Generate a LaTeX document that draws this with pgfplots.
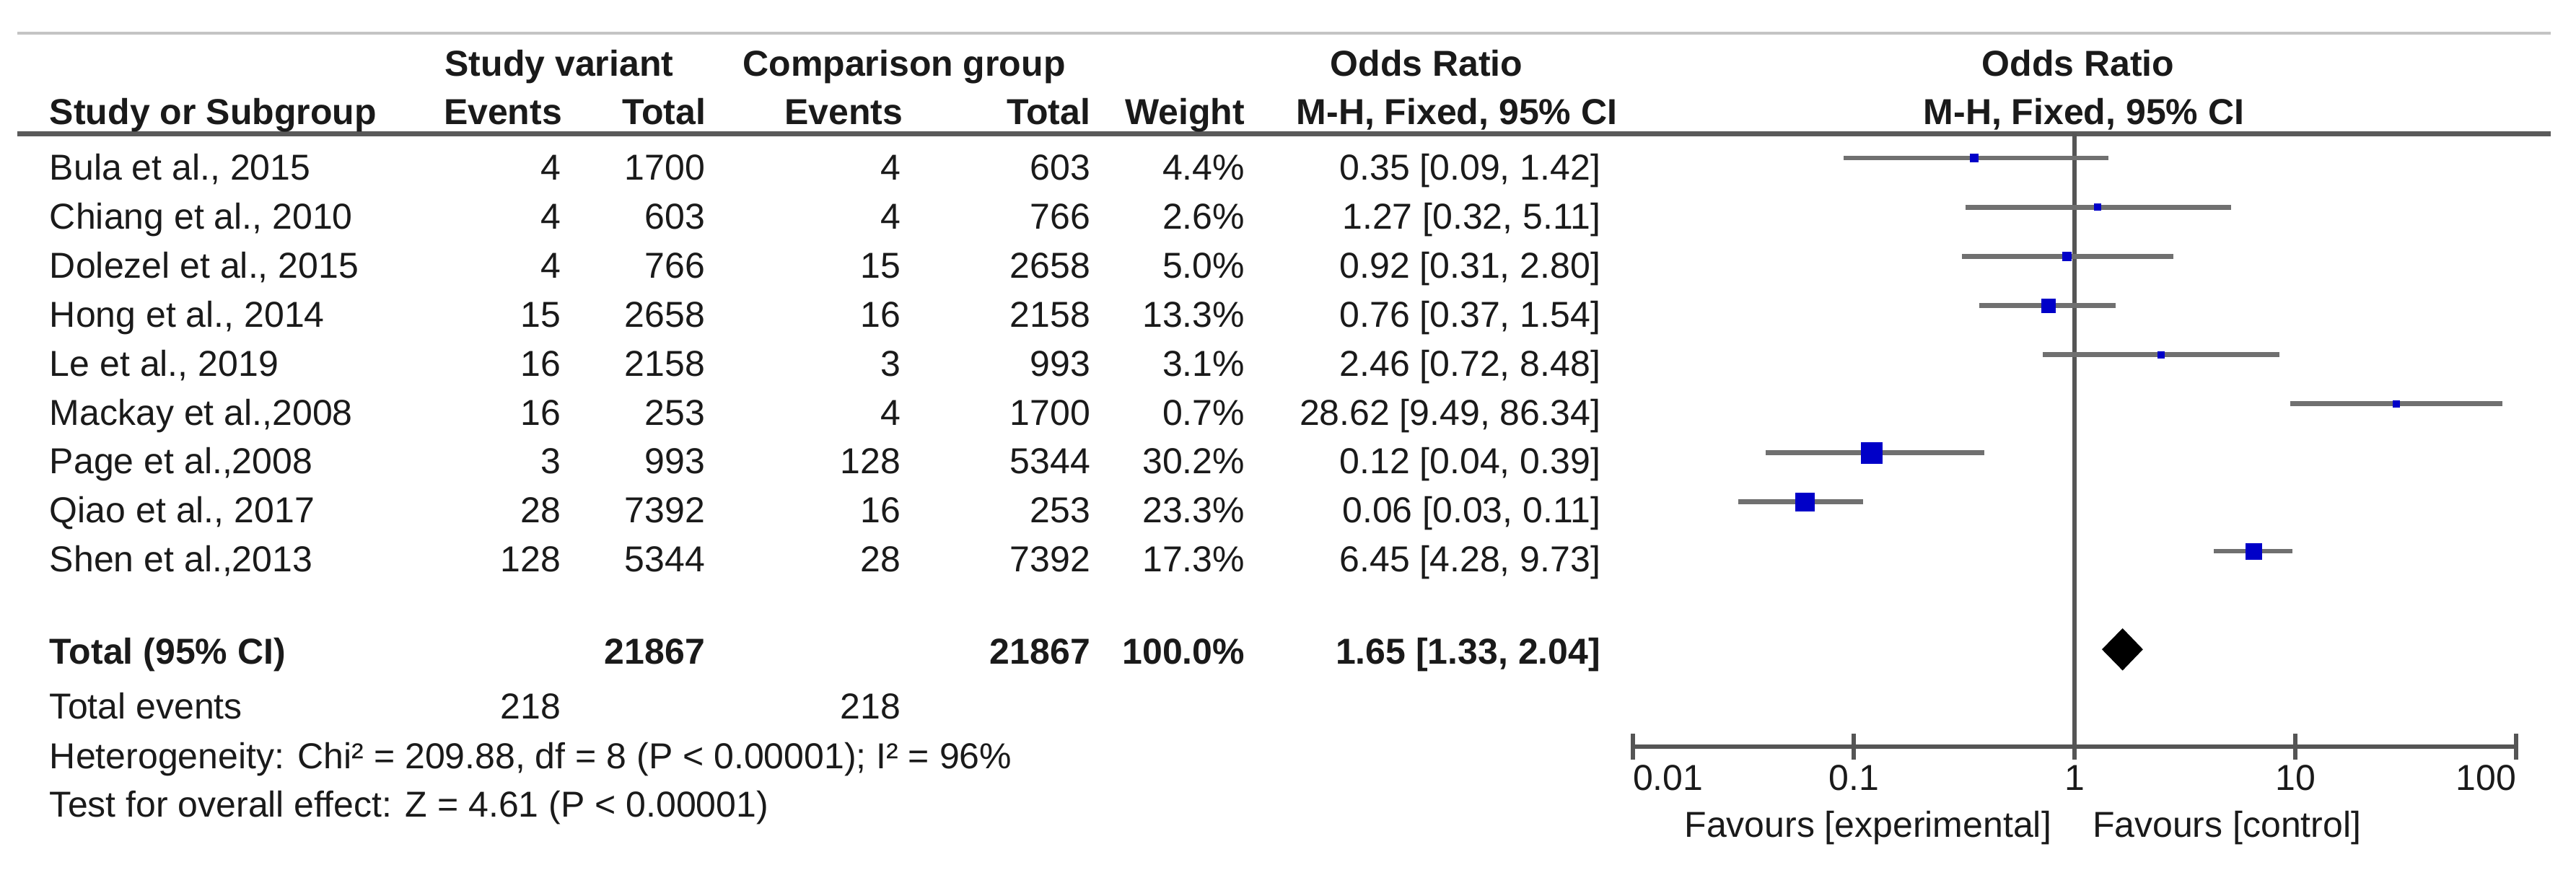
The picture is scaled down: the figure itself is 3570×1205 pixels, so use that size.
\documentclass[border=0pt]{standalone}
\usepackage{pgfplots}
\usepackage{pgfplotstable}
\pgfplotsset{compat=1.18}
\usepackage{fontspec}
\setmainfont{Liberation Sans}

\definecolor{txt}{HTML}{1A1A1A}
\definecolor{rulelight}{HTML}{C4C4C4}
\definecolor{ruledark}{HTML}{5A5A5A}
\definecolor{cigray}{HTML}{707070}
\definecolor{axisgray}{HTML}{555555}
\definecolor{markblue}{HTML}{0000C8}

% odds ratio, 95% CI and weight (%) of each study; row = -(line number)
\pgfplotstableread{
row  or     lo    hi     w
-1   0.35   0.09  1.42   4.4
-2   1.27   0.32  5.11   2.6
-3   0.92   0.31  2.80   5.0
-4   0.76   0.37  1.54   13.3
-5   2.46   0.72  8.48   3.1
-6   28.62  9.49  86.34  0.7
-7   0.12   0.04  0.39   30.2
-8   0.06   0.03  0.11   23.3
-9   6.45   4.28  9.73   17.3
}\studies

\newcommand\studyrow[8]{%
  \node[anchor=base west] at (68,#1) {#2};
  \node[anchor=base east] at (778,#1) {#3};
  \node[anchor=base east] at (978,#1) {#4};
  \node[anchor=base east] at (1249,#1) {#5};
  \node[anchor=base east] at (1512,#1) {#6};
  \node[anchor=base east] at (1726,#1) {#7};
  \node[anchor=base east] at (2219,#1) {#8};
}

\begin{document}
\begin{tikzpicture}
\begin{scope}[x=0.2pt,y=-0.2pt,every node/.style={inner sep=0pt,text=txt,font=\fontsize{10}{12}\selectfont}]
  \path[use as bounding box] (0,0) rectangle (3570,1205);
  % rules
  \draw[rulelight,line width=0.9pt] (24,46) -- (3535,46);
  \draw[ruledark,line width=1.4pt] (24,185) -- (3535,185);
  % headers
  \begin{scope}[every node/.append style={font=\fontsize{10}{12}\selectfont\bfseries}]
    \node[anchor=base] at (775,105) {Study variant};
    \node[anchor=base] at (1253,105) {Comparison group};
    \node[anchor=base] at (1977,105) {Odds Ratio};
    \node[anchor=base] at (2880,105) {Odds Ratio};
    \node[anchor=base west] at (68,172) {Study or Subgroup};
    \node[anchor=base east] at (780,172) {Events};
    \node[anchor=base east] at (979,172) {Total};
    \node[anchor=base east] at (1252,172) {Events};
    \node[anchor=base east] at (1512,172) {Total};
    \node[anchor=base east] at (1726,172) {Weight};
    \node[anchor=base] at (2019,172) {M-H, Fixed, 95\% CI};
    \node[anchor=base] at (2888,172) {M-H, Fixed, 95\% CI};
  \end{scope}
  % study rows
  \studyrow{249}{Bula et al., 2015}{4}{1700}{4}{603}{4.4\%}{0.35 [0.09, 1.42]}
  \studyrow{317}{Chiang et al., 2010}{4}{603}{4}{766}{2.6\%}{1.27 [0.32, 5.11]}
  \studyrow{385}{Dolezel et al., 2015}{4}{766}{15}{2658}{5.0\%}{0.92 [0.31, 2.80]}
  \studyrow{453}{Hong et al., 2014}{15}{2658}{16}{2158}{13.3\%}{0.76 [0.37, 1.54]}
  \studyrow{521}{Le et al., 2019}{16}{2158}{3}{993}{3.1\%}{2.46 [0.72, 8.48]}
  \studyrow{589}{Mackay et al.,2008}{16}{253}{4}{1700}{0.7\%}{28.62 [9.49, 86.34]}
  \studyrow{656}{Page et al.,2008}{3}{993}{128}{5344}{30.2\%}{0.12 [0.04, 0.39]}
  \studyrow{724}{Qiao et al., 2017}{28}{7392}{16}{253}{23.3\%}{0.06 [0.03, 0.11]}
  \studyrow{792}{Shen et al.,2013}{128}{5344}{28}{7392}{17.3\%}{6.45 [4.28, 9.73]}
  % totals
  \begin{scope}[every node/.append style={font=\fontsize{10}{12}\selectfont\bfseries}]
    \node[anchor=base west] at (68,920) {Total (95\% CI)};
    \node[anchor=base east] at (978,920) {21867};
    \node[anchor=base east] at (1512,920) {21867};
    \node[anchor=base east] at (1726,920) {100.0\%};
    \node[anchor=base east] at (2219,920) {1.65 [1.33, 2.04]};
  \end{scope}
  \node[anchor=base west] at (68,996) {Total events};
  \node[anchor=base east] at (778,996) {218};
  \node[anchor=base east] at (1249,996) {218};
  \node[anchor=base west] at (68,1065) {Heterogeneity: Chi² = 209.88, df = 8 (P < 0.00001); I² = 96\%};
  \node[anchor=base west] at (68,1132) {Test for overall effect: Z = 4.61 (P < 0.00001)};
  \node[anchor=base east] at (2844,1160) {Favours [experimental]};
  \node[anchor=base west] at (2899,1160) {Favours [control]};
\end{scope}

\begin{axis}[
  at={(452.6pt,-207pt)}, anchor=south west,
  scale only axis, width=244.8pt, height=170pt,
  xmode=log, xmin=0.01, xmax=100,
  ymin=-12.98, ymax=-0.5,
  axis x line*=bottom, axis y line=none,
  xtick={0.01,0.1,1,10,100},
  xticklabels={\rlap{0.01},0.1,1,10,\llap{100}},
  xminorticks=false,
  tick align=center, major tick length=7.2pt,
  tick style={draw=axisgray, line width=1.1pt},
  axis line style={draw=axisgray, line width=1.3pt},
  xticklabel style={anchor=base, text=txt, font=\fontsize{10}{12}\selectfont, yshift=-8.4pt},
  clip=false,
]
  % line of no effect
  \addplot[axisgray, line width=1.2pt] coordinates {(1,-0.5) (1,-12.98)};
  % confidence intervals
  \addplot[cigray, line width=1.35pt] coordinates {(0.09,-1) (1.42,-1)};
  \addplot[cigray, line width=1.35pt] coordinates {(0.32,-2) (5.11,-2)};
  \addplot[cigray, line width=1.35pt] coordinates {(0.31,-3) (2.80,-3)};
  \addplot[cigray, line width=1.35pt] coordinates {(0.37,-4) (1.54,-4)};
  \addplot[cigray, line width=1.35pt] coordinates {(0.72,-5) (8.48,-5)};
  \addplot[cigray, line width=1.35pt] coordinates {(9.49,-6) (86.34,-6)};
  \addplot[cigray, line width=1.35pt] coordinates {(0.04,-7) (0.39,-7)};
  \addplot[cigray, line width=1.35pt] coordinates {(0.03,-8) (0.11,-8)};
  \addplot[cigray, line width=1.35pt] coordinates {(4.28,-9) (9.73,-9)};
  % study estimates, box side grows with the square root of the weight
  \addplot[only marks, mark=square*, scatter,
    scatter/use mapped color={draw=markblue, fill=markblue},
    mark options={line width=0.1pt},
    visualization depends on={max(0.528*sqrt(\thisrow{w}),0.9) \as \msz},
    scatter/@pre marker code/.append style={/tikz/mark size=\msz}]
    table[x=or, y=row] {\studies};
  % pooled estimate 1.65 [1.33, 2.04]
  \addplot[draw=none, fill=black] coordinates {(1.33,-11) (1.65,-10.57) (2.04,-11) (1.65,-11.43) (1.33,-11)};
\end{axis}
\end{tikzpicture}
\end{document}
